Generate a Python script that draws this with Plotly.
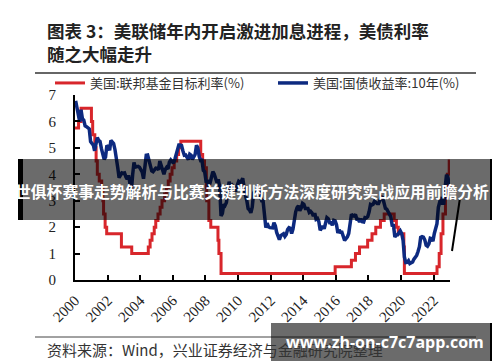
import pandas as pd
import plotly.graph_objects as go

# ---------------- data ----------------
fed_dates = ["2000-01-01","2000-03-21","2000-05-16","2001-01-03","2001-01-31","2001-03-20","2001-04-18",
             "2001-05-15","2001-06-27","2001-08-21","2001-09-17","2001-10-02","2001-11-06","2001-12-11",
             "2002-11-06","2003-06-25","2004-06-30","2004-08-10","2004-09-21","2004-11-10","2004-12-14",
             "2005-02-02","2005-03-22","2005-05-03","2005-06-30","2005-08-09","2005-09-20","2005-11-01",
             "2005-12-13","2006-01-31","2006-03-28","2006-05-10","2006-06-29","2007-09-18","2007-10-31",
             "2007-12-11","2008-01-22","2008-01-30","2008-03-18","2008-04-30","2008-10-08","2008-10-29",
             "2008-12-16","2015-12-16","2016-12-14","2017-03-15","2017-06-14","2017-12-13","2018-03-21",
             "2018-06-13","2018-09-26","2018-12-19","2019-07-31","2019-09-18","2019-10-30","2020-03-03",
             "2020-03-15","2022-03-16","2022-05-04","2022-06-15","2022-07-27","2022-09-21","2022-11-02",
             "2022-12-14","2022-12-31"]
fed_rate = [5.75, 6.0, 6.5, 6.0, 5.5, 5.0, 4.5, 4.0, 3.75, 3.5, 3.0, 2.5, 2.0, 1.75, 1.25, 1.0,
            1.25, 1.5, 1.75, 2.0, 2.25, 2.5, 2.75, 3.0, 3.25, 3.5, 3.75, 4.0, 4.25, 4.5, 4.75, 5.0,
            5.25, 4.75, 4.5, 4.25, 3.5, 3.0, 2.25, 2.0, 1.5, 1.0, 0.25, 0.5, 0.75, 1.0, 1.25, 1.5,
            1.75, 2.0, 2.25, 2.5, 2.25, 2.0, 1.75, 1.25, 0.25, 0.5, 1.0, 1.75, 2.5, 3.25, 4.0, 4.5, 4.5]

ust10y = [
    6.78, 6.52, 6.26, 5.99, 6.44, 6.10, 6.05, 5.83, 5.80, 5.74, 5.72, 5.24,  # 2000
    5.16, 5.10, 4.89, 5.14, 5.39, 5.28, 5.24, 4.97, 4.73, 4.57, 4.65, 5.09,  # 2001
    5.04, 4.91, 5.28, 5.21, 5.16, 4.93, 4.65, 4.26, 3.87, 3.94, 4.05, 4.03,  # 2002
    4.05, 3.90, 3.81, 3.96, 3.57, 3.33, 3.98, 4.45, 4.27, 4.29, 4.30, 4.27,  # 2003
    4.15, 4.08, 3.83, 4.35, 4.72, 4.73, 4.50, 4.28, 4.13, 4.10, 4.19, 4.23,  # 2004
    4.22, 4.17, 4.50, 4.34, 4.14, 4.00, 4.18, 4.26, 4.20, 4.46, 4.54, 4.47,  # 2005
    4.42, 4.57, 4.72, 4.99, 5.11, 5.11, 5.09, 4.88, 4.72, 4.73, 4.60, 4.56,  # 2006
    4.76, 4.72, 4.56, 4.69, 4.75, 5.10, 5.00, 4.67, 4.52, 4.53, 4.15, 4.10,  # 2007
    3.74, 3.74, 3.51, 3.68, 3.88, 4.10, 4.01, 3.89, 3.69, 3.81, 3.53, 2.42,  # 2008
    2.52, 2.87, 2.82, 2.93, 3.29, 3.72, 3.56, 3.59, 3.40, 3.39, 3.40, 3.59,  # 2009
    3.73, 3.69, 3.73, 3.85, 3.42, 3.20, 3.01, 2.70, 2.65, 2.54, 2.76, 3.29,  # 2010
    3.39, 3.58, 3.41, 3.46, 3.17, 3.00, 3.00, 2.30, 1.98, 2.15, 2.01, 1.98,  # 2011
    1.97, 1.97, 2.17, 2.05, 1.80, 1.62, 1.53, 1.68, 1.72, 1.75, 1.65, 1.72,  # 2012
    1.91, 1.98, 1.96, 1.76, 1.93, 2.30, 2.58, 2.74, 2.81, 2.62, 2.72, 2.90,  # 2013
    2.86, 2.71, 2.72, 2.71, 2.56, 2.60, 2.54, 2.42, 2.53, 2.30, 2.33, 2.21,  # 2014
    1.88, 1.98, 2.04, 1.94, 2.20, 2.36, 2.32, 2.17, 2.17, 2.07, 2.26, 2.24,  # 2015
    2.09, 1.78, 1.89, 1.81, 1.81, 1.64, 1.50, 1.56, 1.63, 1.76, 2.14, 2.49,  # 2016
    2.43, 2.42, 2.48, 2.30, 2.30, 2.19, 2.32, 2.21, 2.20, 2.36, 2.35, 2.40,  # 2017
    2.58, 2.86, 2.84, 2.87, 2.98, 2.91, 2.89, 2.89, 3.00, 3.15, 3.12, 2.83,  # 2018
    2.71, 2.68, 2.57, 2.53, 2.40, 2.07, 2.06, 1.63, 1.70, 1.71, 1.81, 1.86,  # 2019
    1.76, 1.50, 0.87, 0.66, 0.67, 0.73, 0.62, 0.65, 0.68, 0.79, 0.87, 0.93,  # 2020
    1.08, 1.26, 1.61, 1.64, 1.62, 1.52, 1.32, 1.28, 1.37, 1.58, 1.56, 1.47,  # 2021
    1.76, 1.93, 2.13, 2.75, 2.90, 3.14, 2.90, 2.90, 3.52, 3.98, 3.89, 3.62,  # 2022
]
ust_dates = pd.date_range("2000-01-01", periods=len(ust10y), freq="MS") + pd.Timedelta(days=14)

name_fed = "美国:联邦基金目标利率(%)"
name_ust = "美国:国债收益率:10年(%)"
title_l1 = "图表 3：美联储年内开启激进加息进程，美债利率"
title_l2 = "随之大幅走升"
source_txt = "资料来源：Wind，兴业证券经济与金融研究院整理"
banner_txt = "世俱杯赛事走势解析与比赛关键判断方法深度研究实战应用前瞻分析"
wm_txt = "www.zh-on-c7c7app.com"

# ---------------- layout helpers ----------------
W, H = 500, 362
ML, MR, MT, MB = 67, 58, 87, 90
PW, PH = W - ML - MR, H - MT - MB
def px(x): return (x - ML) / PW
def py(y): return (H - MB - y) / PH

CJK = "Noto Sans CJK SC"
SERIF = "Liberation Serif, Times New Roman, serif"

fig = go.Figure()
fig.add_trace(go.Scatter(x=fed_dates, y=fed_rate, name=name_fed, mode="lines",
                         line=dict(color="#d8262b", width=3, shape="hv")))
fig.add_trace(go.Scatter(x=ust_dates, y=ust10y, name=name_ust, mode="lines",
                         line=dict(color="#0d2a80", width=3.5)))

shapes = [
    dict(type="line", xref="paper", yref="paper", x0=px(27), x1=px(468), y0=py(65), y1=py(65),
         line=dict(color="#333", width=1.5)),
    dict(type="line", xref="paper", yref="paper", x0=px(27), x1=px(468), y0=py(329), y1=py(329),
         line=dict(color="#444", width=1)),
    dict(type="rect", xref="paper", yref="paper", x0=px(10), x1=px(490), y0=py(212), y1=py(151),
         fillcolor="rgba(0,0,0,0.58)", line=dict(width=0), layer="above"),
    dict(type="rect", xref="paper", yref="paper", x0=px(10), x1=px(15), y0=py(212), y1=py(151),
         fillcolor="black", line=dict(width=0), layer="above"),
    dict(type="rect", xref="paper", yref="paper", x0=px(482), x1=px(490), y0=py(212), y1=py(151),
         fillcolor="black", line=dict(width=0), layer="above"),
    dict(type="line", xref="paper", yref="paper", x0=px(452), y0=py(190), x1=px(444), y1=py(243),
         line=dict(color="black", width=2), layer="above"),
    dict(type="rect", xref="paper", yref="paper", x0=px(263), x1=px(491), y0=py(353), y1=py(315),
         fillcolor="rgba(0,0,0,0.58)", line=dict(width=0), layer="above"),
    dict(type="rect", xref="paper", yref="paper", x0=px(482), x1=px(491), y0=py(353), y1=py(315),
         fillcolor="black", line=dict(width=0), layer="above"),
]

annotations = [
    dict(text=title_l1, xref="paper", yref="paper", x=px(37), y=py(22), xanchor="left", yanchor="middle",
         showarrow=False, font=dict(family=CJK, size=17.5, color="#222", weight="bold")),
    dict(text=title_l2, xref="paper", yref="paper", x=px(37), y=py(45), xanchor="left", yanchor="middle",
         showarrow=False, font=dict(family=CJK, size=17.5, color="#222", weight="bold")),
    dict(text=source_txt, xref="paper", yref="paper", x=px(37), y=py(341), xanchor="left", yanchor="middle",
         showarrow=False, font=dict(family=CJK, size=15, color="#333")),
    dict(text=banner_txt, xref="paper", yref="paper", x=px(244), y=py(183), xanchor="center", yanchor="middle",
         showarrow=False, font=dict(family=CJK, size=15.8, color="white", weight="bold")),
    dict(text=wm_txt, xref="paper", yref="paper", x=px(377), y=py(334), xanchor="center", yanchor="middle",
         showarrow=False, font=dict(family="Open Sans, DejaVu Sans", size=16, color="white", weight="bold")),
]

fig.update_layout(
    width=W, height=H,
    margin=dict(l=ML, r=MR, t=MT, b=MB),
    paper_bgcolor="white", plot_bgcolor="white",
    showlegend=True,
    legend=dict(orientation="h", x=px(42), y=py(75), xanchor="left", yanchor="middle",
                font=dict(family=CJK, size=13, color="#333"),
                entrywidth=178, entrywidthmode="pixels", bgcolor="rgba(0,0,0,0)",
                itemclick=False),
    shapes=shapes,
    annotations=annotations,
    xaxis=dict(type="date", range=["2000-01-01", "2023-01-01"], tick0="2000-01-01", dtick="M24",
               tickformat="%Y", tickangle=-45, showgrid=False, zeroline=False,
               showline=True, linecolor="black", linewidth=2,
               ticks="inside", ticklen=5, tickwidth=2, tickcolor="black", ticklabelstandoff=4,
               tickfont=dict(family=SERIF, size=15, color="#222")),
    yaxis=dict(range=[0, 7], dtick=1, showgrid=False, zeroline=False,
               showline=True, linecolor="black", linewidth=2,
               ticks="inside", ticklen=5, tickwidth=2, tickcolor="black", ticklabelstandoff=14,
               tickfont=dict(family=SERIF, size=15, color="#222")),
)

fig.write_html("out.html")
